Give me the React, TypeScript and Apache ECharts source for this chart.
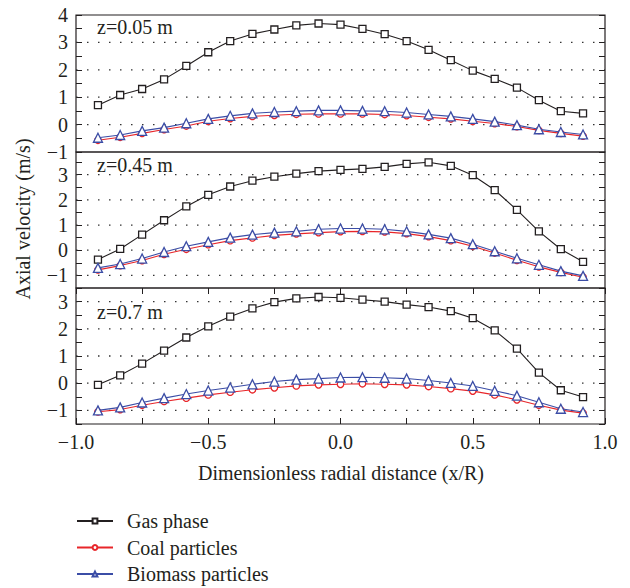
import React, { useEffect, useRef } from "react";
import * as echarts from "echarts";

const xPositions = [-0.917, -0.833, -0.75, -0.667, -0.583, -0.5, -0.417, -0.333, -0.25, -0.167, -0.083, 0, 0.083, 0.167, 0.25, 0.333, 0.417, 0.5, 0.583, 0.667, 0.75, 0.833, 0.917];

const panelLabels = ["z=0.05 m", "z=0.45 m", "z=0.7 m"];
const seriesNames = ["Gas phase", "Coal particles", "Biomass particles"];

const gas1 = [0.71, 1.08, 1.30, 1.65, 2.14, 2.64, 3.05, 3.31, 3.47, 3.62, 3.69, 3.65, 3.49, 3.30, 3.05, 2.73, 2.35, 1.97, 1.67, 1.35, 0.89, 0.49, 0.41];
const coal1 = [-0.57, -0.46, -0.32, -0.18, -0.05, 0.12, 0.22, 0.30, 0.34, 0.38, 0.39, 0.39, 0.39, 0.37, 0.33, 0.27, 0.21, 0.12, 0.04, -0.07, -0.21, -0.32, -0.42];
const bio1 = [-0.48, -0.38, -0.23, -0.11, 0.05, 0.21, 0.32, 0.41, 0.46, 0.49, 0.52, 0.52, 0.50, 0.49, 0.44, 0.37, 0.30, 0.21, 0.11, -0.02, -0.17, -0.27, -0.36];

const gas2 = [-0.37, 0.05, 0.62, 1.19, 1.74, 2.20, 2.53, 2.76, 2.92, 3.04, 3.14, 3.19, 3.23, 3.31, 3.43, 3.49, 3.35, 2.98, 2.39, 1.60, 0.75, 0.04, -0.46];
const coal2 = [-0.78, -0.61, -0.41, -0.16, 0.04, 0.22, 0.38, 0.49, 0.59, 0.65, 0.70, 0.74, 0.75, 0.73, 0.66, 0.54, 0.38, 0.16, -0.11, -0.40, -0.66, -0.88, -1.07];
const bio2 = [-0.70, -0.55, -0.33, -0.07, 0.16, 0.33, 0.50, 0.62, 0.70, 0.75, 0.83, 0.86, 0.86, 0.83, 0.75, 0.63, 0.48, 0.24, -0.04, -0.32, -0.58, -0.83, -1.02];

const gas3 = [-0.06, 0.29, 0.72, 1.20, 1.68, 2.09, 2.45, 2.75, 2.98, 3.12, 3.17, 3.14, 3.07, 3.00, 2.89, 2.80, 2.65, 2.39, 1.94, 1.27, 0.39, -0.26, -0.51];
const coal3 = [-1.05, -0.97, -0.81, -0.67, -0.55, -0.43, -0.33, -0.24, -0.17, -0.10, -0.06, -0.04, -0.02, -0.04, -0.06, -0.12, -0.20, -0.29, -0.43, -0.61, -0.81, -0.99, -1.10];
const bio3 = [-1.00, -0.89, -0.71, -0.55, -0.40, -0.27, -0.16, -0.04, 0.06, 0.13, 0.17, 0.21, 0.22, 0.20, 0.17, 0.10, 0.01, -0.10, -0.28, -0.46, -0.70, -0.94, -1.06];

const yMins = [-1, -1.5, -1.5];
const yMaxs = [4, 3.9, 3.5];
const gridLineValues = [
  [0, 1, 2, 3],
  [-1, 0, 1, 2, 3],
  [-1, 0, 1, 2, 3],
];
const xExtent = [-1, 1];

const panels = [
  [gas1, coal1, bio1],
  [gas2, coal2, bio2],
  [gas3, coal3, bio3],
];

const FONT = "'Liberation Serif', 'Times New Roman', serif";
const FS = 20;
const INK = "#231f20";
const COLORS = ["#231f20", "#e8262a", "#3b4da6"];
const SYMBOLS = ["rect", "circle", "triangle"];
const SYMBOL_SIZES = [7, 6.5, 9];

export default function App() {
  const ref = useRef<HTMLDivElement>(null);

  useEffect(() => {
    if (!ref.current) return;
    const chart = echarts.init(ref.current, null, { renderer: "svg" });

    const gridTops = [15, 152, 288];
    const gridHeights = [137, 136, 136];
    const grids = gridTops.map((t, i) => ({
      left: 76,
      top: t,
      width: 529,
      height: gridHeights[i],
      show: true,
      borderColor: INK,
      borderWidth: 1.2,
      backgroundColor: "transparent",
    }));

    const fmtY = (v: number) => (Number.isInteger(v) ? String(v).replace("-", "\u2212") : "");
    const fmtX = (v: number) =>
      Math.abs(v * 2 - Math.round(v * 2)) < 1e-6 ? v.toFixed(1).replace("-", "\u2212") : "";

    const tickStyle = { show: true, inside: true, length: 6, lineStyle: { color: INK, width: 1 } };
    const noLine = { show: false, onZero: false };

    const xAxes: any[] = [];
    for (let i = 0; i < 3; i++) {
      xAxes.push({
        type: "value",
        gridIndex: i,
        position: "bottom",
        min: -1,
        max: 1,
        interval: 0.25,
        axisLine: noLine,
        splitLine: { show: false },
        axisTick: { ...tickStyle, show: i === 2 },
        axisLabel: {
          show: i === 2,
          formatter: fmtX,
          fontFamily: FONT,
          fontSize: FS,
          color: INK,
          margin: 8,
        },
      });
    }
    xAxes.push({
      type: "value",
      gridIndex: 2,
      position: "top",
      min: -1,
      max: 1,
      interval: 0.25,
      axisLine: noLine,
      splitLine: { show: false },
      axisTick: tickStyle,
      axisLabel: { show: false },
    });

    const yAxes: any[] = [];
    for (let i = 0; i < 3; i++) {
      yAxes.push({
        type: "value",
        gridIndex: i,
        position: "left",
        min: yMins[i],
        max: yMaxs[i],
        interval: 0.5,
        axisLine: noLine,
        splitLine: { show: false },
        axisTick: tickStyle,
        axisLabel: {
          formatter: fmtY,
          fontFamily: FONT,
          fontSize: FS,
          color: INK,
          margin: 8,
          showMaxLabel: true,
          showMinLabel: true,
        },
      });
      yAxes.push({
        type: "value",
        gridIndex: i,
        position: "right",
        min: yMins[i],
        max: yMaxs[i],
        interval: 0.5,
        axisLine: noLine,
        splitLine: { show: false },
        axisTick: tickStyle,
        axisLabel: { show: false },
      });
    }

    const series: any[] = [];
    panels.forEach((panel, p) => {
      gridLineValues[p].forEach((v, j) => {
        series.push({
          name: `grid-${p}-${j}`,
          type: "line",
          xAxisIndex: p,
          yAxisIndex: p * 2,
          data: xExtent.map((x) => [x, v]),
          symbol: "none",
          silent: true,
          lineStyle: { type: [1.5, 9.5], color: "#333", width: 1.3 },
          z: 1,
        });
      });
      panel.forEach((vals, s) => {
        series.push({
          name: seriesNames[s],
          type: "line",
          xAxisIndex: p,
          yAxisIndex: p * 2,
          data: xPositions.map((x, k) => [x, vals[k]]),
          symbol: SYMBOLS[s],
          symbolSize: SYMBOL_SIZES[s],
          showAllSymbol: true,
          lineStyle: { color: COLORS[s], width: 1.1 },
          itemStyle: { color: "#ffffff", borderColor: COLORS[s], borderWidth: 1.3 },
          color: COLORS[s],
          z: 3 + s,
        });
      });
    });

    chart.setOption({
      animation: false,
      backgroundColor: "#ffffff",
      grid: grids,
      xAxis: xAxes,
      yAxis: yAxes,
      legend: {
        data: seriesNames,
        orient: "vertical",
        left: 76,
        top: 511,
        padding: 0,
        itemWidth: 36,
        itemHeight: 6,
        itemGap: 6.5,
        selectedMode: false,
        textStyle: { fontFamily: FONT, fontSize: FS, color: INK, padding: [0, 0, 0, 9] },
      },
      graphic: [
        ...panelLabels.map((t, i) => ({
          type: "text",
          left: 97,
          top: [17, 155, 302][i],
          style: { text: t, fontFamily: FONT, fontSize: FS, fill: INK },
          z: 10,
        })),
        {
          type: "text",
          x: 23,
          y: 219,
          rotation: Math.PI / 2,
          style: {
            text: "Axial velocity (m/s)",
            fontFamily: FONT,
            fontSize: FS,
            fill: INK,
            textAlign: "center",
            textVerticalAlign: "middle",
          },
        },
        {
          type: "text",
          x: 341,
          y: 473,
          style: {
            text: "Dimensionless radial distance (x/R)",
            fontFamily: FONT,
            fontSize: FS,
            fill: INK,
            textAlign: "center",
            textVerticalAlign: "middle",
          },
        },
      ],
      series,
    });

    return () => chart.dispose();
  }, []);

  return (
    <div
      ref={ref}
      style={{ position: "absolute", left: 0, top: 0, width: 630, height: 588 }}
    />
  );
}
